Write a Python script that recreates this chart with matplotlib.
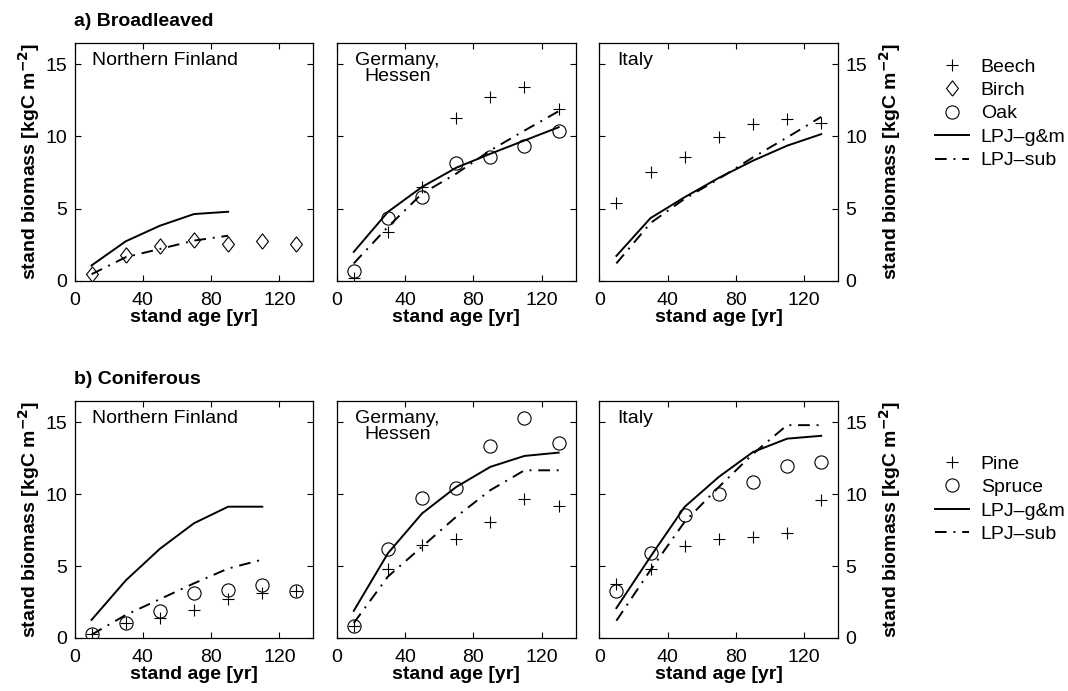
import numpy as np
import matplotlib
matplotlib.use('Agg')
import matplotlib.pyplot as plt
from matplotlib.lines import Line2D

plt.rcParams['font.family'] = ['Liberation Sans', 'DejaVu Sans']
plt.rcParams['font.size'] = 14

# ---- data (stand biomass, kgC m-2) ----
ages = [10, 30, 50, 70, 90, 110, 130]
sites = ['Northern Finland', 'Germany,\nHessen', 'Italy']

# a) broadleaved
bl_fin_birch = [0.48, 1.75, 2.41, 2.83, 2.57, 2.73, 2.55]
bl_fin_ages = [10, 30, 50, 70, 90]
bl_fin_gm = [1.06, 2.73, 3.81, 4.62, 4.78]
bl_fin_sub = [0.45, 1.63, 2.20, 2.78, 3.12]

bl_hes_beech = [0.16, 3.39, 6.50, 11.29, 12.72, 13.46, 11.91]
bl_hes_oak = [0.67, 4.35, 5.80, 8.18, 8.55, 9.31, 10.39]
bl_hes_gm = [2.0, 4.77, 6.50, 7.83, 8.80, 9.72, 10.64]
bl_hes_sub = [1.2, 3.73, 6.04, 7.42, 9.03, 10.41, 11.75]

bl_ita_beech = [5.36, 7.52, 8.55, 9.98, 10.83, 11.20, 10.90]
bl_ita_gm = [1.72, 4.34, 5.79, 7.13, 8.32, 9.36, 10.16]
bl_ita_sub = [1.2, 4.0, 5.68, 7.06, 8.55, 9.93, 11.36]

# b) coniferous
cf_fin_pine = [0.28, 1.04, 1.40, 1.95, 2.70, 3.10, 3.30]
cf_fin_spruce = [0.28, 1.04, 1.90, 3.15, 3.33, 3.68, 3.30]
cf_fin_ages = [10, 30, 50, 70, 90, 110]
cf_fin_gm = [1.26, 4.0, 6.2, 7.98, 9.13, 9.13]
cf_fin_sub = [0.23, 1.6, 2.7, 3.8, 4.83, 5.45]

cf_hes_pine = [0.85, 4.80, 6.47, 6.88, 8.04, 9.68, 9.19]
cf_hes_spruce = [0.85, 6.17, 9.75, 10.44, 13.33, 15.27, 13.56]
cf_hes_gm = [1.89, 5.89, 8.66, 10.50, 11.90, 12.66, 12.89]
cf_hes_sub = [1.04, 4.27, 6.35, 8.43, 10.28, 11.66, 11.66]

cf_ita_pine = [3.76, 4.78, 6.42, 6.88, 7.04, 7.32, 9.58]
cf_ita_spruce = [3.30, 5.93, 8.52, 10.0, 10.85, 11.96, 12.24]
cf_ita_gm = [2.08, 5.66, 9.12, 11.20, 12.93, 13.86, 14.06]
cf_ita_sub = [1.2, 4.73, 8.08, 10.5, 12.8, 14.8, 14.8]

# ---- styles ----
W, H = 1068, 691
lw = 1.4
dashdot = (0, (6, 3.5, 1, 3.5))
diamond = [(0, -1), (0.78, 0), (0, 1), (-0.78, 0), (0, -1)]
mk = dict(linestyle='none', color='black', markerfacecolor='none',
          markeredgewidth=0.8)
pstyle = dict(marker='+', markersize=8.5, **mk)
dstyle = dict(marker=diamond, markersize=11, **mk)
ostyle = dict(marker='o', markersize=9.5, **mk)
gmstyle = dict(color='black', linewidth=lw, linestyle='-')
substyle = dict(color='black', linewidth=lw, linestyle=dashdot)

fig = plt.figure(figsize=(W / 100, H / 100), dpi=100)

lefts = [74.5, 336.7, 599.3]
axw = 239
rows = [(42.7, 280.7), (400.7, 638.0)]


def make_ax(col, row):
    top, bot = rows[row]
    ax = fig.add_axes([lefts[col] / W, 1 - bot / H, axw / W, (bot - top) / H])
    ax.set_xlim(0, 140)
    ax.set_ylim(0, 16.5)
    ax.set_xticks([0, 40, 80, 120])
    ax.set_yticks([0, 5, 10, 15])
    ax.tick_params(direction='in', top=True, right=True, length=4,
                   width=0.8, labelsize=14)
    ax.tick_params(axis='x', pad=8)
    ax.tick_params(axis='y', pad=5)
    if col == 1:
        ax.tick_params(labelleft=False)
    if col == 2:
        ax.tick_params(labelleft=False, labelright=True)
        ax.yaxis.set_label_position('right')
    if col == 0:
        ax.set_ylabel('stand biomass [kgC m$^{\\mathbf{-2}}$]',
                      fontweight='bold', fontsize=14, labelpad=3)
    if col == 2:
        ax.set_ylabel('stand biomass [kgC m$^{\\mathbf{-2}}$]',
                      fontweight='bold', fontsize=14, labelpad=7)
    ax.set_xlabel('stand age [yr]', fontweight='bold', fontsize=14, labelpad=0)
    for s in ax.spines.values():
        s.set_linewidth(0.9)
    if col == 1:
        ax.text(0.255, 0.96, sites[col], transform=ax.transAxes,
                ha='center', va='top', fontsize=14, linespacing=0.9)
    else:
        ax.text(0.075, 0.96, sites[col], transform=ax.transAxes,
                ha='left', va='top', fontsize=14)
    return ax


# row a: broadleaved
ax = make_ax(0, 0)
ax.plot(bl_fin_ages, bl_fin_gm, **gmstyle)
ax.plot(bl_fin_ages, bl_fin_sub, **substyle)
ax.plot(ages, bl_fin_birch, **dstyle)

ax = make_ax(1, 0)
ax.plot(ages, bl_hes_gm, **gmstyle)
ax.plot(ages, bl_hes_sub, **substyle)
ax.plot(ages, bl_hes_beech, **pstyle)
ax.plot(ages, bl_hes_oak, **ostyle)

ax = make_ax(2, 0)
ax.plot(ages, bl_ita_gm, **gmstyle)
ax.plot(ages, bl_ita_sub, **substyle)
ax.plot(ages, bl_ita_beech, **pstyle)

# row b: coniferous
ax = make_ax(0, 1)
ax.plot(cf_fin_ages, cf_fin_gm, **gmstyle)
ax.plot(cf_fin_ages, cf_fin_sub, **substyle)
ax.plot(ages, cf_fin_pine, **pstyle)
ax.plot(ages, cf_fin_spruce, **ostyle)

ax = make_ax(1, 1)
ax.plot(ages, cf_hes_gm, **gmstyle)
ax.plot(ages, cf_hes_sub, **substyle)
ax.plot(ages, cf_hes_pine, **pstyle)
ax.plot(ages, cf_hes_spruce, **ostyle)

ax = make_ax(2, 1)
ax.plot(ages, cf_ita_gm, **gmstyle)
ax.plot(ages, cf_ita_sub, **substyle)
ax.plot(ages, cf_ita_pine, **pstyle)
ax.plot(ages, cf_ita_spruce, **ostyle)

fig.text(74 / W, 1 - 21 / H, 'a) Broadleaved', fontweight='bold',
         fontsize=14, va='center', ha='left')
fig.text(74 / W, 1 - 380 / H, 'b) Coniferous', fontweight='bold',
         fontsize=14, va='center', ha='left')

# legends
h_plus = Line2D([], [], **pstyle)
h_dia = Line2D([], [], **dstyle)
h_circ = Line2D([], [], **ostyle)
h_gm = Line2D([], [], **gmstyle)
h_sub = Line2D([], [], **substyle)
legkw = dict(frameon=False, loc='upper left', fontsize=14, handlelength=1.75,
             handletextpad=0.6, labelspacing=0.3, borderpad=0,
             borderaxespad=0)
fig.legend([h_plus, h_dia, h_circ, h_gm, h_sub],
           ['Beech', 'Birch', 'Oak', 'LPJ\u2013g&m', 'LPJ\u2013sub'],
           bbox_to_anchor=(935 / W, 1 - 58 / H), **legkw)
fig.legend([h_plus, h_circ, h_gm, h_sub],
           ['Pine', 'Spruce', 'LPJ\u2013g&m', 'LPJ\u2013sub'],
           bbox_to_anchor=(935 / W, 1 - 455 / H), **legkw)

fig.savefig('out.png', dpi=100)
